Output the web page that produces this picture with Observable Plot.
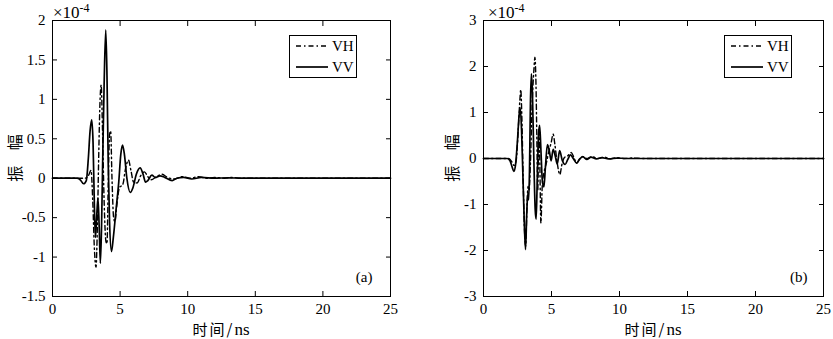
<!DOCTYPE html>
<html><head><meta charset="utf-8">
<script src="https://cdn.jsdelivr.net/npm/d3@7"></script>
<script src="https://cdn.jsdelivr.net/npm/@observablehq/plot@0.6"></script>
<style>
body{margin:0;background:#fff}
#wrap{position:relative;width:833px;height:339px;overflow:hidden;background:#fff}
.panel{position:absolute;top:0}
.serif{position:absolute;font-family:"Liberation Serif","Times New Roman",serif;color:#000;white-space:nowrap;line-height:1}
.cjk{position:absolute;font-family:"Noto Sans CJK SC",sans-serif;color:#000;white-space:pre;line-height:1}
.legend{position:absolute;width:66px;height:41px;border:1px solid #000;background:#fff}
</style></head>
<body><div id="wrap"></div>
<script>
// ---- data (amplitude in units of 1e-4, time in ns) ----
const xTicks = [0, 5, 10, 15, 20, 25];
const yTicksA = [-1.5, -1, -0.5, 0, 0.5, 1, 1.5, 2];
const yTicksB = [-3, -2, -1, 0, 1, 2, 3];
const seriesNames = ["VH", "VV"];
const panelTags = ["(a)", "(b)"];

const aVV = [[0,0],[1.8,0],[2.05,-0.02],[2.3,-0.07],[2.5,-0.03],[2.65,0.25],[2.78,0.6],[2.9,0.74],[3.0,0.45],[3.08,-0.2],[3.17,-0.75],[3.25,-0.55],[3.36,-0.25],[3.45,-0.6],[3.54,-1.08],[3.63,-0.6],[3.72,0.3],[3.82,1.2],[3.94,1.88],[4.03,1.3],[4.12,0.2],[4.22,-0.55],[4.36,-0.93],[4.5,-0.75],[4.7,-0.4],[4.9,-0.05],[5.05,0.3],[5.18,0.42],[5.32,0.3],[5.5,0],[5.75,-0.18],[5.95,-0.12],[6.2,0.05],[6.48,0.13],[6.7,0.05],[6.88,-0.05],[7.05,-0.03],[7.35,0.04],[7.6,0.01],[7.95,0.03],[8.3,0.01],[8.85,-0.03],[9.2,0],[9.7,0.01],[10.3,-0.01],[11,0.01],[12,0],[13,0.005],[14,0],[25,0]];
const aVH = [[0,0],[2.4,0],[2.65,0.03],[2.85,0.1],[2.98,-0.3],[3.1,-0.9],[3.22,-1.13],[3.32,-0.6],[3.42,0.3],[3.52,1.0],[3.6,1.18],[3.7,0.6],[3.82,-0.3],[3.95,-0.8],[4.03,-0.83],[4.12,-0.1],[4.22,0.55],[4.3,0.6],[4.4,0.0],[4.52,-0.5],[4.62,-0.55],[4.75,-0.35],[4.95,-0.12],[5.2,-0.08],[5.4,0.12],[5.62,0.23],[5.8,0.1],[6.0,-0.05],[6.25,-0.06],[6.55,0.04],[6.8,0.08],[7.05,0.02],[7.3,-0.02],[7.7,0.02],[8.1,0.05],[8.5,0.01],[9,-0.01],[9.6,0.02],[10.2,0],[10.8,0.02],[11.4,0],[12,0.01],[12.7,0],[13.3,0.01],[14,0],[25,0]];
const bVV = [[0,0],[1.75,0],[1.95,-0.05],[2.1,-0.18],[2.23,-0.28],[2.35,-0.15],[2.5,0.4],[2.62,0.95],[2.7,1.1],[2.8,0.6],[2.9,-0.4],[3.0,-1.4],[3.09,-1.98],[3.18,-1.2],[3.26,-0.75],[3.32,-0.9],[3.38,-0.3],[3.45,1.2],[3.52,1.84],[3.6,1.4],[3.7,0.0],[3.8,-1.1],[3.87,-1.32],[3.95,-0.5],[4.05,0.55],[4.13,0.72],[4.22,0.2],[4.33,-0.5],[4.44,-0.62],[4.55,-0.2],[4.7,0.3],[4.85,0.15],[4.97,-0.05],[5.12,0.2],[5.28,0.05],[5.42,-0.12],[5.6,0.17],[5.8,-0.05],[6.0,-0.13],[6.2,-0.02],[6.4,0.08],[6.6,0.0],[6.85,-0.1],[7.05,-0.02],[7.3,0.04],[7.6,-0.02],[7.9,0.03],[8.3,-0.01],[8.7,0.02],[9.2,-0.01],[9.8,0.01],[10.5,0],[25,0]];
const bVH = [[0,0],[1.85,0],[2.1,-0.08],[2.25,-0.15],[2.4,-0.05],[2.55,0.6],[2.68,1.3],[2.74,1.5],[2.82,0.9],[2.92,-0.5],[3.02,-1.6],[3.1,-1.9],[3.2,-1.0],[3.28,-0.6],[3.35,-0.7],[3.45,-0.1],[3.58,1.2],[3.7,1.9],[3.78,2.2],[3.86,1.6],[3.92,0.5],[3.99,-0.7],[4.07,0.65],[4.13,0.1],[4.22,-1.4],[4.32,-0.6],[4.45,-0.3],[4.62,-0.1],[4.8,0.15],[4.98,0.35],[5.12,0.53],[5.25,0.3],[5.4,-0.05],[5.62,-0.35],[5.75,-0.15],[5.95,0.02],[6.2,0.06],[6.45,0.13],[6.65,0.02],[6.85,-0.1],[7.05,-0.02],[7.3,0.04],[7.6,0.0],[8.0,0.04],[8.4,0.0],[8.9,0.03],[9.3,-0.01],[9.8,0.02],[10.3,0],[11,0.01],[11.7,0],[25,0]];

const SERIF = "Liberation Serif, Times New Roman, serif";
const toObj = arr => arr.map(([t, v]) => ({t, v}));

function panel({left, width, mL, mR, yDomain, yTicks, vh, vv, tag, tagDx}) {
  const chart = Plot.plot({
    width, height: 339,
    marginLeft: mL, marginRight: mR, marginTop: 20, marginBottom: 43,
    x: {domain: [0, 25]},
    y: {domain: yDomain},
    style: {fontFamily: SERIF, fontSize: "15px", color: "black", background: "transparent", overflow: "visible"},
    marks: [
      Plot.axisX(xTicks, {anchor: "bottom", tickSize: -5, tickPadding: 12, tickFormat: d => String(d), label: null, fontSize: 15, fontFamily: SERIF}),
      Plot.axisX(xTicks, {anchor: "top", tickSize: -5, tickFormat: () => "", label: null}),
      Plot.axisY(yTicks, {anchor: "left", tickSize: -5, tickPadding: 12, tickFormat: d => String(d), label: null, fontSize: 15, fontFamily: SERIF}),
      Plot.axisY(yTicks, {anchor: "right", tickSize: -5, tickFormat: () => "", label: null}),
      Plot.line(toObj(vh), {x: "t", y: "v", stroke: "black", strokeWidth: 1.4, strokeDasharray: "5,3,1.5,3", curve: "monotone-x"}),
      Plot.line(toObj(vv), {x: "t", y: "v", stroke: "black", strokeWidth: 1.7, curve: "monotone-x"}),
      Plot.frame({stroke: "black", strokeWidth: 1}),
      Plot.text([tag], {frameAnchor: "bottom-right", text: d => d, dx: tagDx, dy: -15, fontSize: 15, fontFamily: SERIF, textAnchor: "end"})
    ]
  });
  const div = document.createElement("div");
  div.className = "panel";
  div.style.left = left + "px";
  div.appendChild(chart);
  return div;
}

const wrap = document.getElementById("wrap");
wrap.appendChild(panel({left: 0, width: 416, mL: 52, mR: 26, yDomain: [-1.5, 2], yTicks: yTicksA, vh: aVH, vv: aVV, tag: panelTags[0], tagDx: -18}));
wrap.appendChild(panel({left: 416, width: 417, mL: 67, mR: 10, yDomain: [-3, 3], yTicks: yTicksB, vh: bVH, vv: bVV, tag: panelTags[1], tagDx: -16}));

function addHTML(html) { wrap.insertAdjacentHTML("beforeend", html); }

function legend(x) {
  addHTML(`<div class="legend" style="left:${x}px;top:35px">
    <svg width="66" height="41" style="position:absolute;left:0;top:0">
      <line x1="6" x2="38" y1="10" y2="10" stroke="black" stroke-width="1.4" stroke-dasharray="5,3,1.5,3"/>
      <line x1="6" x2="38" y1="31" y2="31" stroke="black" stroke-width="1.7"/>
      <text x="42" y="15" font-family="${SERIF}" font-size="15">${seriesNames[0]}</text>
      <text x="42" y="36" font-family="${SERIF}" font-size="15">${seriesNames[1]}</text>
    </svg></div>`);
}
legend(289);
legend(724);

function exponent(x) {
  addHTML(`<div class="serif" style="left:${x}px;top:4px;font-size:17px">×10<span style="font-size:12px;position:relative;top:-6px">-4</span></div>`);
}
exponent(53);
exponent(488);

function yLabel(cx) {
  addHTML(`<div class="cjk" style="left:${cx - 30}px;top:150px;width:60px;text-align:center;font-size:16px;transform:rotate(-90deg);letter-spacing:6px;padding-left:6px">振 幅</div>`);
}
yLabel(11);
yLabel(448);

function xLabel(cx) {
  addHTML(`<div class="cjk" style="left:${cx - 50}px;top:320px;width:100px;text-align:center;font-size:15px;line-height:1.2;letter-spacing:2px">时间/<span style="font-family:${SERIF};font-size:17px;letter-spacing:0">ns</span></div>`);
}
xLabel(221);
xLabel(653);
</script>
</body></html>
